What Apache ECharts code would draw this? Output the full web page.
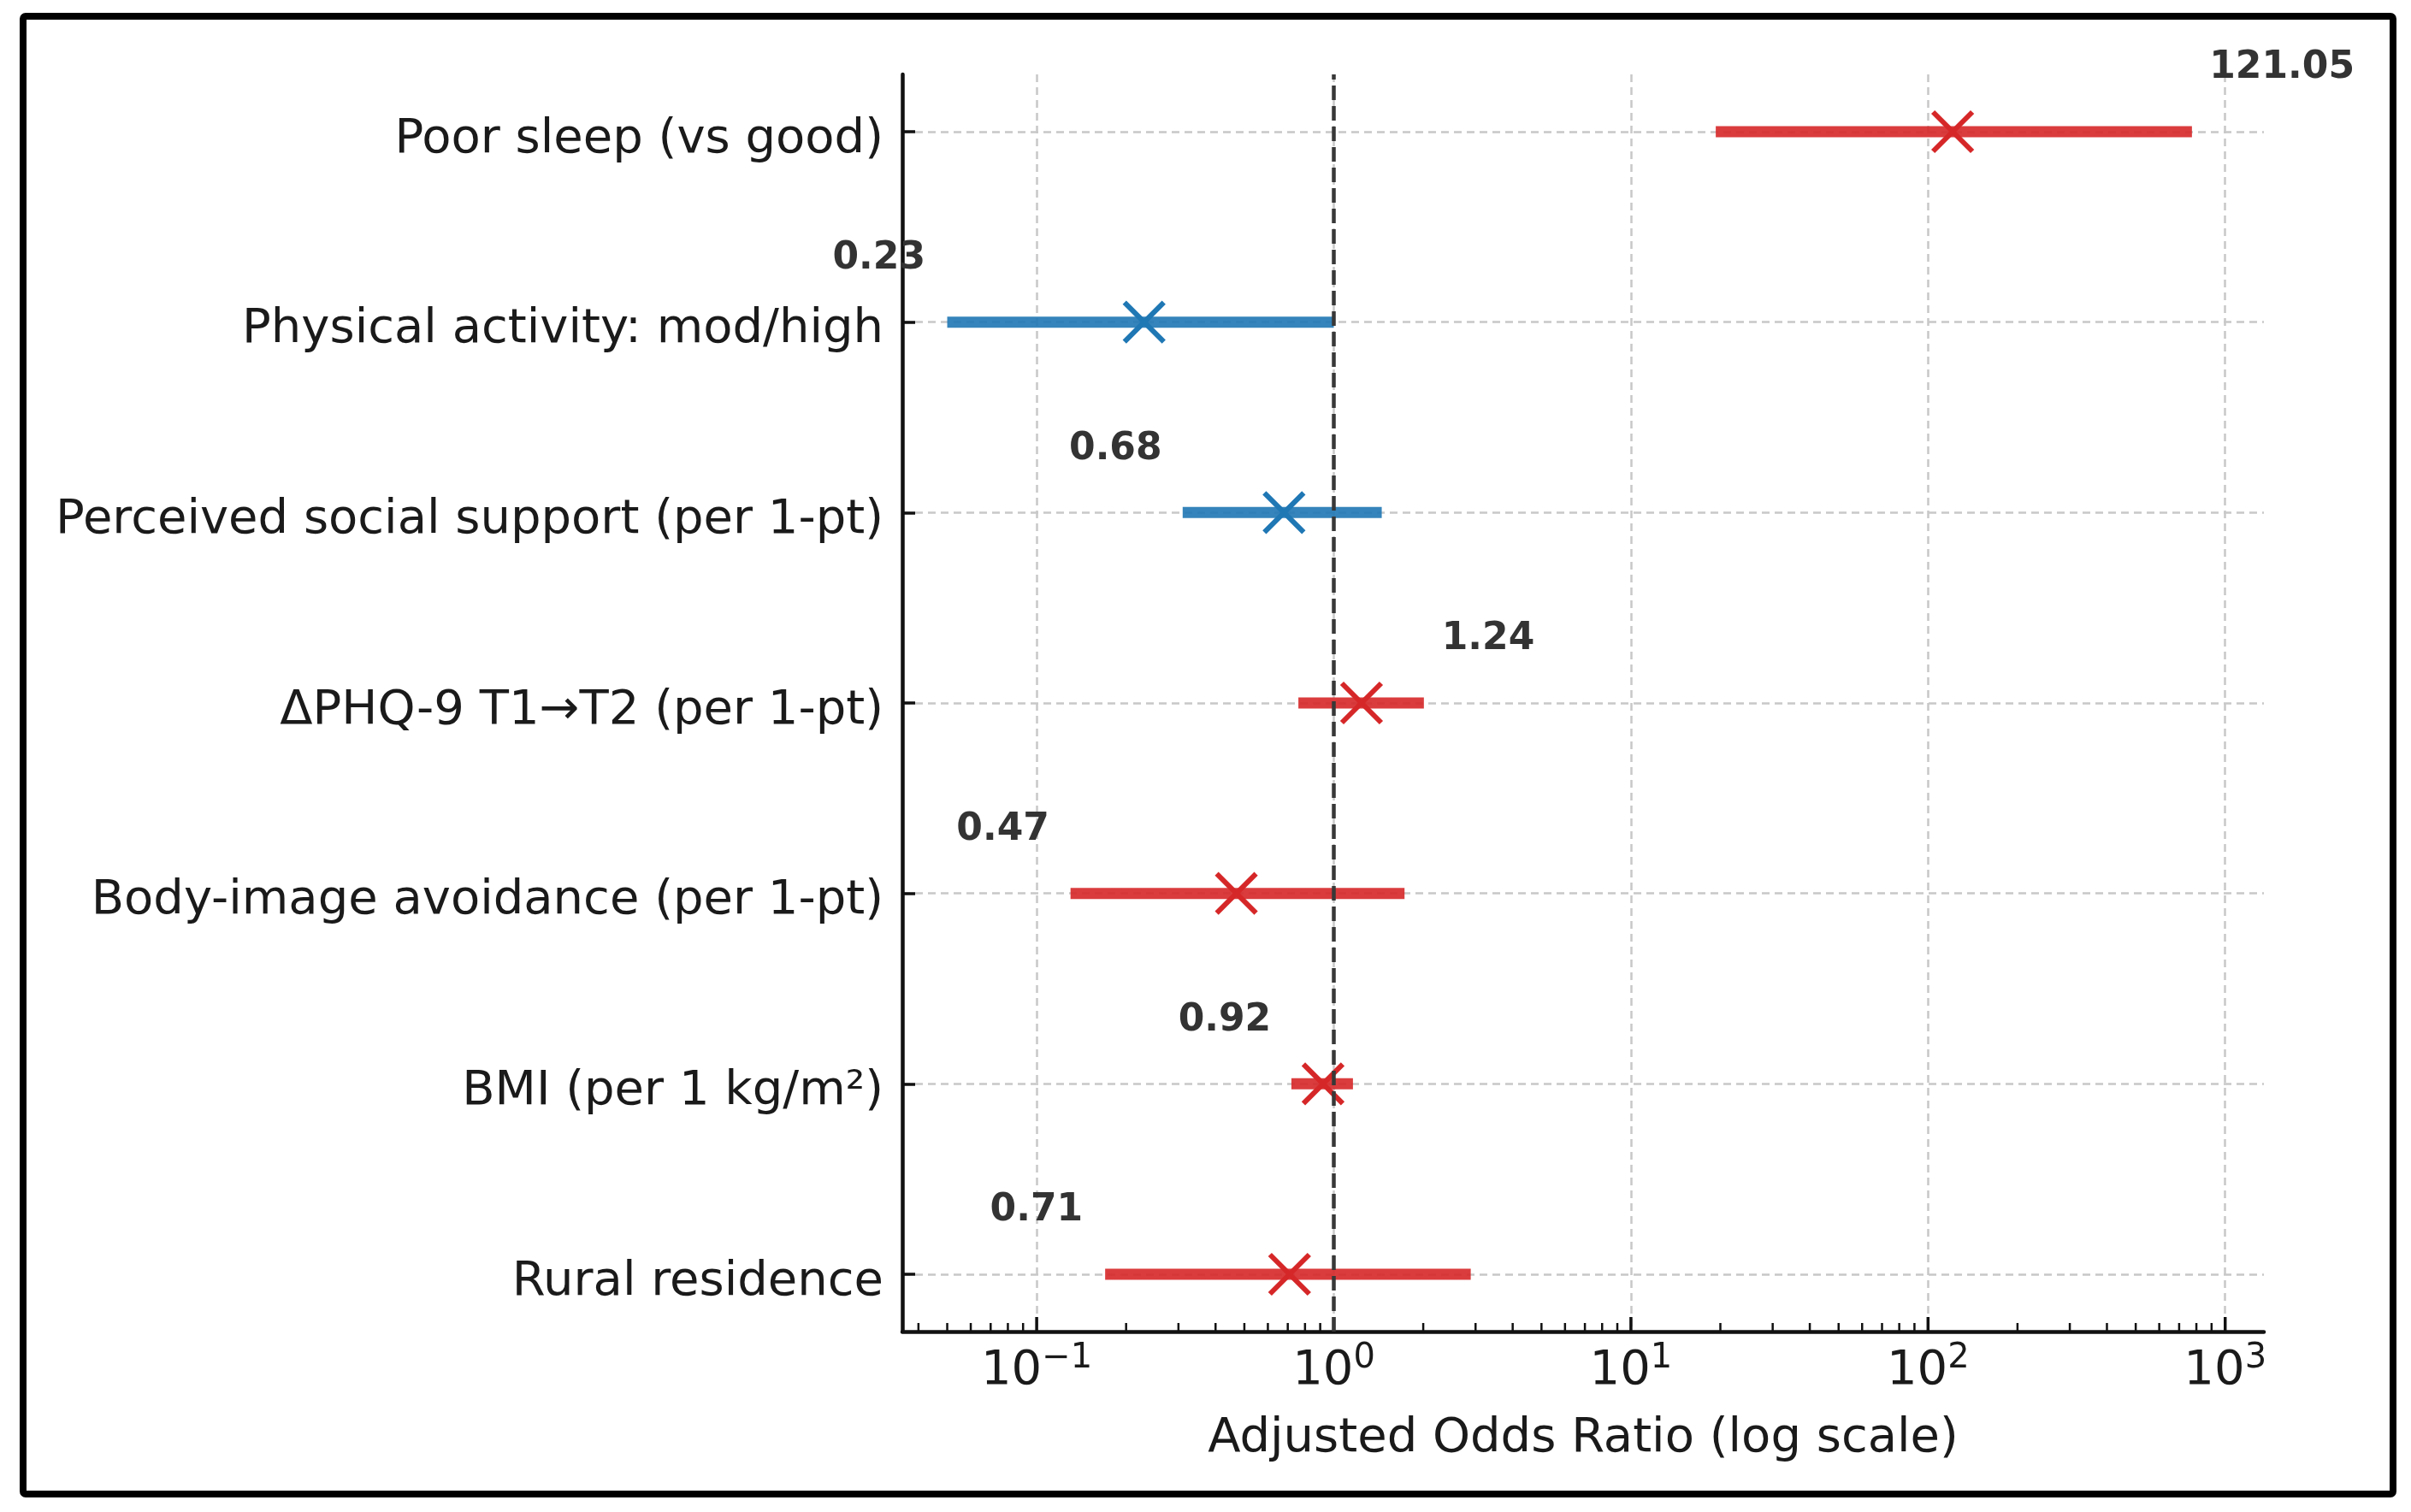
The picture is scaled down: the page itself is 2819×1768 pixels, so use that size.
<!DOCTYPE html>
<html><head><meta charset="utf-8">
<script src="https://cdn.jsdelivr.net/npm/echarts@6/dist/echarts.min.js"></script>
<style>html,body{margin:0;padding:0;background:#fff;} #chart{width:2819px;height:1768px;}</style>
</head><body><div id="chart"></div>
<script>
// ---------------- data ----------------
const categories = ['Poor sleep (vs good)', 'Physical activity: mod/high', 'Perceived social support (per 1-pt)', 'ΔPHQ-9 T1→T2 (per 1-pt)', 'Body-image avoidance (per 1-pt)', 'BMI (per 1 kg/m²)', 'Rural residence'];
const oddsRatio = [121.05, 0.23, 0.68, 1.24, 0.47, 0.92, 0.71];
const ciLower = [19.3, 0.050, 0.31, 0.76, 0.13, 0.72, 0.17];
const ciUpper = [773, 1.00, 1.45, 2.01, 1.73, 1.16, 2.89];
const effectGroup = ['risk', 'protective', 'protective', 'risk', 'risk', 'risk', 'risk'];
const majorTickValues = [0.1, 1, 10, 100, 1000];
const minorTickValues = [0.04, 0.05, 0.06, 0.07, 0.08, 0.09, 0.2, 0.3, 0.4, 0.5, 0.6, 0.7, 0.8, 0.9, 2, 3, 4, 5, 6, 7, 8, 9, 20, 30, 40, 50, 60, 70, 80, 90, 200, 300, 400, 500, 600, 700, 800, 900];
const referenceOR = [1];
const xMin = 0.0353, xMax = 1350;

// ---------------- style ----------------
const COLORS = {
  risk: { bar: 'rgba(214,39,40,0.9)', mark: '#d62728' },
  protective: { bar: 'rgba(31,119,180,0.9)', mark: '#1f77b4' }
};
const labelDx = [385, -310, -197, 148, -273, -115, -296]; // annotation offsets (px) from the point
const labelDy = -74;
const FONT = '"DejaVu Sans", sans-serif';
const GRID_LEFT = 1055, GRID_RIGHT = 172;

const chart = echarts.init(document.getElementById('chart'), null, { renderer: 'canvas' });

function fmtX(v) {
  const lg = Math.log10(v);
  const e = Math.round(lg);
  if (Math.abs(lg - e) > 1e-6) return '';
  return '{b|10}{s|' + (e < 0 ? '\u2212' + (-e) : String(e)) + '}';
}

function renderForest(params, api) {
  const i = params.dataIndex;
  const row = api.value(0);
  const p = api.coord([api.value(1), row]);
  const lo = api.coord([api.value(2), row]);
  const hi = api.coord([api.value(3), row]);
  const c = COLORS[effectGroup[i]];
  const s = 23;
  return {
    type: 'group',
    children: [
      { type: 'line', shape: { x1: lo[0], y1: lo[1], x2: hi[0], y2: hi[1] }, style: { stroke: c.bar, lineWidth: 13, lineCap: 'butt' } },
      { type: 'line', shape: { x1: p[0] - s, y1: p[1] - s, x2: p[0] + s, y2: p[1] + s }, style: { stroke: c.mark, lineWidth: 6, lineCap: 'butt' } },
      { type: 'line', shape: { x1: p[0] - s, y1: p[1] + s, x2: p[0] + s, y2: p[1] - s }, style: { stroke: c.mark, lineWidth: 6, lineCap: 'butt' } },
      { type: 'text', x: p[0] + labelDx[i], y: p[1] + labelDy,
        style: { text: api.value(1).toFixed(2), fontFamily: FONT, fontWeight: 'bold', fontSize: 44, fill: '#333333', align: 'center', verticalAlign: 'middle' } }
    ]
  };
}

function renderTicks(major) {
  return function (params, api) {
    const p = api.coord([api.value(0), 0]);
    const len = major ? 17 : 10;
    return { type: 'line', shape: { x1: p[0], y1: p[1], x2: p[0], y2: p[1] - len }, style: { stroke: '#111', lineWidth: major ? 3.5 : 2.5 } };
  };
}

function renderRef(params, api) {
  const b = api.coord([api.value(0), 0]);
  const t = api.coord([api.value(0), 1]);
  return { type: 'line', shape: { x1: b[0], y1: b[1], x2: t[0], y2: t[1] }, style: { stroke: '#383838', lineWidth: 4.5, lineDash: [17, 7] } };
}

const option = {
  backgroundColor: '#ffffff',
  animation: false,
  graphic: [{
    type: 'rect', shape: { x: 27, y: 19, width: 2771, height: 1728, r: 3 },
    style: { fill: 'none', stroke: '#000', lineWidth: 8 }, z: 100
  }],
  grid: [
    { left: GRID_LEFT, right: GRID_RIGHT, top: 87, bottom: 211 },
    { left: GRID_LEFT, right: GRID_RIGHT, top: 154, bottom: 278 }
  ],
  xAxis: [
    {
      type: 'log', logBase: 10, gridIndex: 0, min: xMin, max: xMax,
      name: 'Adjusted Odds Ratio (log scale)', nameLocation: 'middle', nameGap: 97,
      nameTextStyle: { fontFamily: FONT, fontSize: 56, color: '#1a1a1a' },
      axisLine: { show: true, lineStyle: { color: '#111', width: 4.5 } },
      axisTick: { show: false },
      minorTick: { show: false },
      axisLabel: {
        show: true, margin: 12, formatter: fmtX, showMinLabel: false, showMaxLabel: false,
        rich: {
          b: { fontFamily: FONT, fontSize: 56, color: '#1a1a1a', lineHeight: 62, verticalAlign: 'bottom' },
          s: { fontFamily: FONT, fontSize: 40, color: '#1a1a1a', lineHeight: 40, verticalAlign: 'top' }
        }
      },
      splitLine: { show: true, showMinLine: false, showMaxLine: false, lineStyle: { color: '#c8c8c8', width: 2.5, type: [9, 6] } }
    },
    {
      type: 'log', logBase: 10, gridIndex: 1, min: xMin, max: xMax, show: false,
      splitLine: { show: false }
    }
  ],
  yAxis: [
    {
      type: 'value', gridIndex: 0, min: 0, max: 1,
      axisLine: { show: true, lineStyle: { color: '#111', width: 4.5 } },
      axisTick: { show: false }, axisLabel: { show: false }, splitLine: { show: false }
    },
    {
      type: 'category', gridIndex: 1, data: categories, inverse: true, boundaryGap: false,
      axisLine: { show: false },
      axisTick: { show: true, inside: true, length: 15, lineStyle: { color: '#111', width: 3.5 } },
      axisLabel: { show: true, interval: 0, margin: 22, verticalAlign: 'top', lineHeight: 18, fontFamily: FONT, fontSize: 56, color: '#1a1a1a' },
      splitLine: { show: true, interval: 0, lineStyle: { color: '#c8c8c8', width: 2.5, type: [9, 6] } }
    }
  ],
  series: [
    {
      name: 'forest', type: 'custom', xAxisIndex: 1, yAxisIndex: 1, z: 5,
      renderItem: renderForest,
      encode: { x: [1, 2, 3], y: 0 },
      data: categories.map((c, i) => [i, oddsRatio[i], ciLower[i], ciUpper[i]])
    },
    {
      name: 'majorTicks', type: 'custom', xAxisIndex: 0, yAxisIndex: 0, z: 6,
      renderItem: renderTicks(true), encode: { x: 0 },
      data: majorTickValues.map(v => [v])
    },
    {
      name: 'minorTicks', type: 'custom', xAxisIndex: 0, yAxisIndex: 0, z: 6,
      renderItem: renderTicks(false), encode: { x: 0 },
      data: minorTickValues.map(v => [v])
    },
    {
      name: 'reference', type: 'custom', xAxisIndex: 0, yAxisIndex: 0, z: 10,
      renderItem: renderRef, encode: { x: 0 },
      data: referenceOR.map(v => [v])
    }
  ]
};
chart.setOption(option);
</script>
</body></html>
